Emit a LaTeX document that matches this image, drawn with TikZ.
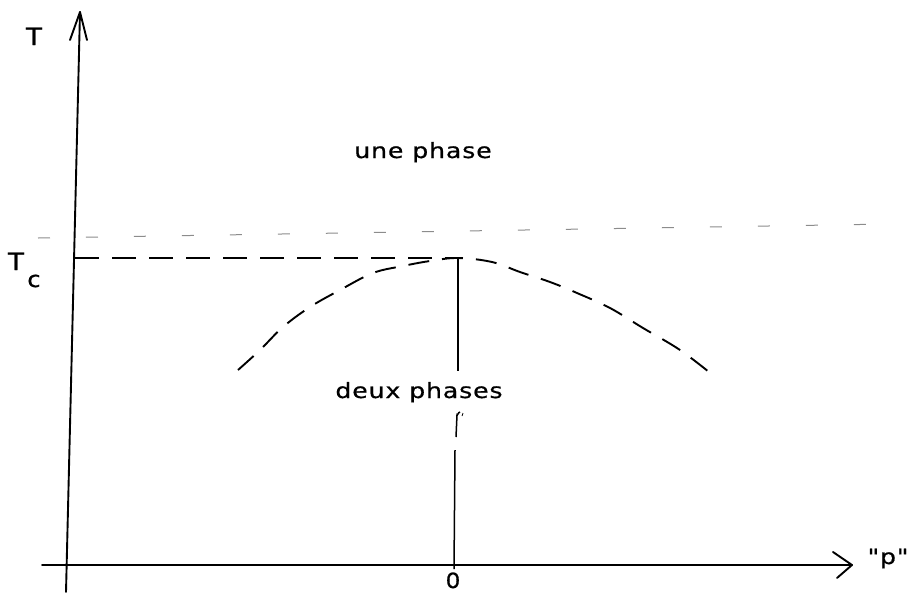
\documentclass[tikz,border=0pt]{standalone}
\usepackage{fontspec}
\newfontfamily\plotfont[LetterSpace=4,FakeStretch=1.2,FakeBold=0.6]{DejaVu Sans}
\newfontfamily\plotfontT[FakeStretch=1.1,FakeBold=0.6]{DejaVu Sans}
\begin{document}
\begin{tikzpicture}[x=1pt,y=-1pt,
  axisline/.style={line width=1.9pt,line cap=round,line join=round},
  critline/.style={line width=1.8pt,dash pattern=on 24pt off 13pt},
  curveline/.style={line width=1.9pt,dash pattern=on 21pt off 13pt},
  faintline/.style={line width=1pt,black!45,dash pattern=on 12pt off 36pt},
  vline/.style={line width=1.5pt},
  lbl/.style={font=\plotfont\fontsize{21}{25}\selectfont,inner sep=0pt,anchor=base},
  axlbl/.style={font=\plotfontT\fontsize{24}{28}\selectfont,inner sep=0pt,anchor=base}]
\useasboundingbox (0,0) rectangle (915,592);
% axes
\coordinate (ytop) at (80,12);
\coordinate (ybot) at (66,592);
\coordinate (yl) at (70,40);
\coordinate (yr) at (87,40);
\coordinate (xl) at (42,565);
\coordinate (xr) at (852,565);
\coordinate (xu) at (833,552);
\coordinate (xd) at (837,578);
\draw[axisline] (ybot) -- (ytop);
\draw[axisline] (yl) -- (ytop) -- (yr);
\draw[axisline] (xl) -- (xr);
\draw[axisline] (xu) -- (xr) -- (xd);
% faint line
\coordinate (fl) at (38,238);
\coordinate (fr) at (890,224);
\draw[faintline] (fl) -- (fr);
% critical temperature line
\coordinate (tcL) at (75,258);
\coordinate (crit) at (458,258);
\draw[critline] (tcL) -- (crit);
% vertical line at p=0
\coordinate (v1) at (458,371);
\coordinate (v2) at (456,437);
\coordinate (v3) at (457,415);
\coordinate (v4) at (455,450);
\coordinate (v5) at (454,569);
\draw[vline] (crit) -- (v1);
\draw[vline] (v2) -- (v3) to[out=-90,in=180] (460,412);
\draw[line width=0.8pt] (462,416) -- (463,413);
\draw[vline] (v4) -- (v5);
% coexistence curve
\draw[curveline] plot[smooth,tension=0.6] coordinates {(238,370) (260,350) (283,327) (310,307) (340,290) (373,273) (403,266) (430,261) (458,258) (492,262) (520,272) (550,282) (577,293) (610,308) (643,328) (680,350) (714,376)};
% labels
\node[lbl] (une) at (423,158) {une phase};
\node[lbl] (deux) at (419,398) {deux phases};
\node[axlbl] (T) at (34,45) {T};
\node[axlbl] (Tc) at (16,270) {T};
\node[lbl,font=\plotfontT\fontsize{22}{26}\selectfont] (c) at (34,287) {c};
\node[lbl,font=\plotfontT\fontsize{21}{25}\selectfont] (zero) at (453,588) {0};
\node[lbl,font=\plotfont\fontsize{21}{25}\selectfont] (p) at (888,564) {"p"};
\end{tikzpicture}
\end{document}
